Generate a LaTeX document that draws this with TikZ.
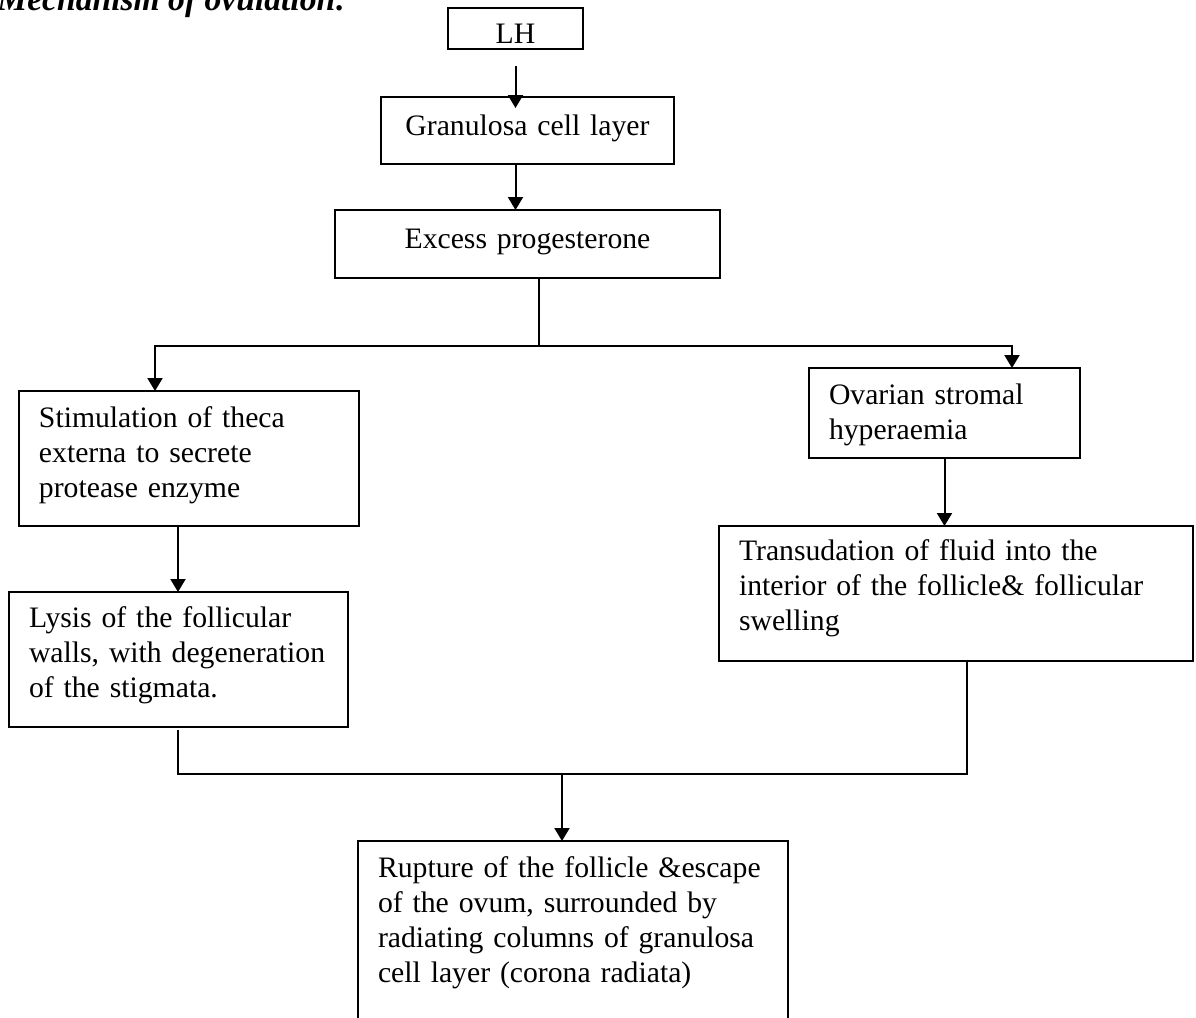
\documentclass[tikz,border=0pt]{standalone}
\usepackage{fontspec}
\setmainfont{Liberation Serif}
\usetikzlibrary{arrows.meta}
\newcommand\bodyfont{\fontsize{14.85pt}{17.5pt}\selectfont}
\newcommand\headfont{\fontsize{16.8pt}{20pt}\selectfont\bfseries\itshape}
\begin{document}
\begin{tikzpicture}[x=0.5pt,y=-0.5pt,
  box/.style={draw, line width=0.9pt, anchor=north west, outer sep=0pt,
    inner xsep=10pt, inner ysep=0pt, align=left, font=\bodyfont},
  cbox/.style={box, align=center},
  link/.style={line width=1pt},
  arr/.style={line width=1pt, -{Triangle[length=6.5pt,width=7.5pt]}}]
\fill[white] (0,0) rectangle (1196,1018);
\clip (0,0) rectangle (1196,1018);

% heading
\node[anchor=base west, inner sep=0pt, font=\headfont] (title) at (-3,10)
  {Mechanism of ovulation:};

% steps
\node[cbox, text width=47.5pt, text height=17.5pt, text depth=3pt] (lh) at (448,8) {LH};
\node[cbox, text width=126.5pt, text height=19pt, text depth=14.5pt] (gran) at (381,97)
  {Granulosa cell layer};
\node[cbox, text width=172.5pt, text height=19pt, text depth=15pt] (excess) at (335,210)
  {Excess progesterone};
\node[box, text width=150pt, text height=18pt, text depth=49.5pt] (stim) at (19,391)
  {Stimulation of theca\\externa to secrete\\protease enzyme};
\node[box, text width=149.5pt, text height=17.5pt, text depth=50pt] (lysis) at (9,592)
  {Lysis of the follicular\\walls, with degeneration\\of the stigmata.};
\node[box, text width=115.5pt, text height=18pt, text depth=27pt] (ovar) at (809,368)
  {Ovarian stromal\\hyperaemia};
\node[box, text width=217pt, text height=17pt, text depth=50.5pt] (trans) at (719,526)
  {Transudation of fluid into the\\interior of the follicle\& follicular\\swelling};
\node[box, text width=195pt, text height=18pt, text depth=81.5pt] (rupt) at (358,841)
  {Rupture of the follicle \&escape\\of the ovum, surrounded by\\radiating columns of granulosa\\cell layer (corona radiata)};

% junction points
\coordinate (split) at (539,346);
\coordinate (lx) at (155,346);
\coordinate (rx) at (1012,346);
\coordinate (cl) at (178,774);
\coordinate (cr) at (967,774);
\coordinate (jm) at (562,774);
\coordinate (a1) at (lh.south |- gran.north);
\coordinate (c1) at (cl |- lysis.south);

% connectors
\draw[arr] ([yshift=-8.5pt]lh.south) -- ([yshift=-5.5pt]a1);
\draw[arr] (lh.south |- gran.south) -- (lh.south |- excess.north);
\draw[link] (excess.south -| split) -- (split);
\draw[arr] (split) -- (lx) -- (lx |- stim.north);
\draw[arr] (split) -- (rx) -- (rx |- ovar.north);
\draw[arr] (cl |- stim.south) -- (cl |- lysis.north);
\draw[arr] (ovar.south) -- (ovar.south |- trans.north);
\draw[link] ([yshift=-1.5pt]c1) -- (cl) -- (cr) -- (cr |- trans.south);
\draw[arr] (jm) -- (jm |- rupt.north);
\end{tikzpicture}
\end{document}
